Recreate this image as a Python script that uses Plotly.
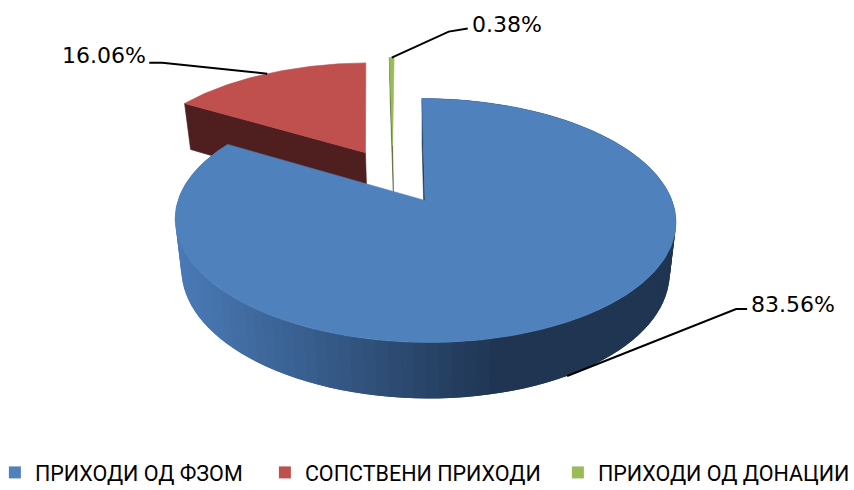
import numpy as np
import plotly.graph_objects as go

categories = ["ПРИХОДИ ОД ФЗОМ", "СОПСТВЕНИ ПРИХОДИ", "ПРИХОДИ ОД ДОНАЦИИ"]
values = [83.56, 16.06, 0.38]
labels = ["83.56%", "16.06%", "0.38%"]
colors = ["#4F81BD", "#C0504D", "#9BBB59"]
side_colors = ["#1F3552", "#4E1F1E", "#4F5F2D"]

# projection of the tilted 3D pie onto the page (page pixels)
CX, CY, X0 = 425.0, 200.5, 404.0
RX, RY, P = 247.0, 118.7, 0.164
DROP_A, DROP_B, SHRINK = 41.7, 0.0418, 0.975
EXPLODE = [(0.0, 0.0), None, (-0.135, 0.5)]
EXPLODE_RED = 0.5


def top(X, Y):
    w = 1 + P * Y
    return X0 + (CX - X0 + RX * X) / w, CY - RY * Y / w


def bottom(x, y):
    return CX + SHRINK * (x - CX), y + DROP_A + DROP_B * y


spans = []
start = 0.0
for v in values:
    spans.append((start, start + v / sum(values) * 2 * np.pi))
    start = spans[-1][1]

mid_red = sum(spans[1]) / 2
offsets = [EXPLODE[0], (EXPLODE_RED * np.sin(mid_red), EXPLODE_RED * np.cos(mid_red)), EXPLODE[2]]


def rim(i, t):
    return top(offsets[i][0] + np.sin(t), offsets[i][1] + np.cos(t))


def apex(i):
    return top(*offsets[i])


def poly(xs, ys, color, lw=0.6):
    return go.Scatter(x=list(xs), y=list(ys), mode="lines", fill="toself", fillcolor=color,
                      line=dict(color=color, width=lw), hoverinfo="skip", showlegend=False)


def sector(i):
    ts = np.linspace(spans[i][0], spans[i][1], max(8, int((spans[i][1] - spans[i][0]) * 60)))
    rx, ry = rim(i, ts)
    ax, ay = apex(i)
    return np.r_[ax, rx, ax], np.r_[ay, ry, ay]


def cut_face(i, t):
    ax, ay = apex(i)
    rx, ry = rim(i, t)
    (bax, bay), (brx, bry) = bottom(ax, ay), bottom(rx, ry)
    return [ax, rx, brx, bax, ax], [ay, ry, bry, bay, ay]


def wall_color(x):
    f = np.clip((x - 176) / (500 - 176), 0, 1)
    a, b = np.array([74, 123, 183]), np.array([31, 53, 82])
    c = a + f * (b - a)
    return "rgb(%d,%d,%d)" % tuple(c)


fig = go.Figure()

# red slice
fig.add_trace(poly(*cut_face(1, spans[1][0]), side_colors[1]))
fig.add_trace(poly(*sector(1), colors[1]))

# green slice
fig.add_trace(poly(*cut_face(2, spans[2][0]), side_colors[2]))
fig.add_trace(poly(*sector(2), colors[2]))

# blue slice: cut face, outer wall (left to right, each band overlapping the next), top
fig.add_trace(poly(*cut_face(0, spans[0][0]), side_colors[0]))
edges = np.linspace(spans[0][0], spans[0][1], 121)
step = edges[1] - edges[0]
for k in range(len(edges) - 2, -1, -1):
    t0, t1 = edges[k] - step, edges[k + 1]
    x0, y0 = rim(0, max(t0, 0.0))
    x1, y1 = rim(0, t1)
    bx0, by0 = bottom(x0, y0)
    bx1, by1 = bottom(x1, y1)
    mx, _ = rim(0, (edges[k] + edges[k + 1]) / 2)
    fig.add_trace(poly([x0, x1, bx1, bx0, x0], [y0, y1, by1, by0, y0], wall_color(mx), lw=0))
fig.add_trace(poly(*sector(0), colors[0]))

# leader lines and value labels
mids = [sum(s) / 2 for s in spans]
anchors = [bottom(*rim(0, mids[0])), rim(1, mids[1]), rim(2, mids[2])]
elbows = [[(169, -67), (180, -67)], [(-105, -11), (-118, -11)], [(57, -26), (76, -29)]]
text_pos = [(182, -72), (-119, -18.5), (78, -33)]
anchor_side = ["left", "right", "left"]
for i in range(3):
    ax, ay = anchors[i]
    fig.add_trace(go.Scatter(x=[ax] + [ax + e[0] for e in elbows[i]], y=[ay] + [ay + e[1] for e in elbows[i]],
                             mode="lines", line=dict(color="black", width=2), hoverinfo="skip", showlegend=False))
    fig.add_annotation(x=ax + text_pos[i][0], y=ay + text_pos[i][1], text=labels[i], showarrow=False,
                       xanchor=anchor_side[i], yanchor="middle",
                       font=dict(family="DejaVu Sans", size=22, color="black"))

# legend
widths = [225, 248, 245]
for name, c, lw in zip(categories, colors, widths):
    fig.add_trace(go.Scatter(x=[None], y=[None], mode="markers", name=name, legendwidth=lw,
                             marker=dict(symbol="square", size=12, color=c)))

fig.update_layout(
    width=854, height=490, margin=dict(l=0, r=0, t=0, b=0, autoexpand=False),
    paper_bgcolor="white", plot_bgcolor="white",
    xaxis=dict(range=[0, 854], visible=False, fixedrange=True),
    yaxis=dict(range=[490, 0], visible=False, fixedrange=True),
    legend=dict(orientation="h", x=-0.006, xanchor="left", y=-0.006, yanchor="bottom",
                font=dict(family="Liberation Sans Narrow, Roboto", size=21.5, color="black"),
                itemsizing="trace", traceorder="normal", bgcolor="rgba(0,0,0,0)"),
)
fig.write_html("out.html", post_script="document.body.style.margin='0';", config={"displayModeBar": False})
